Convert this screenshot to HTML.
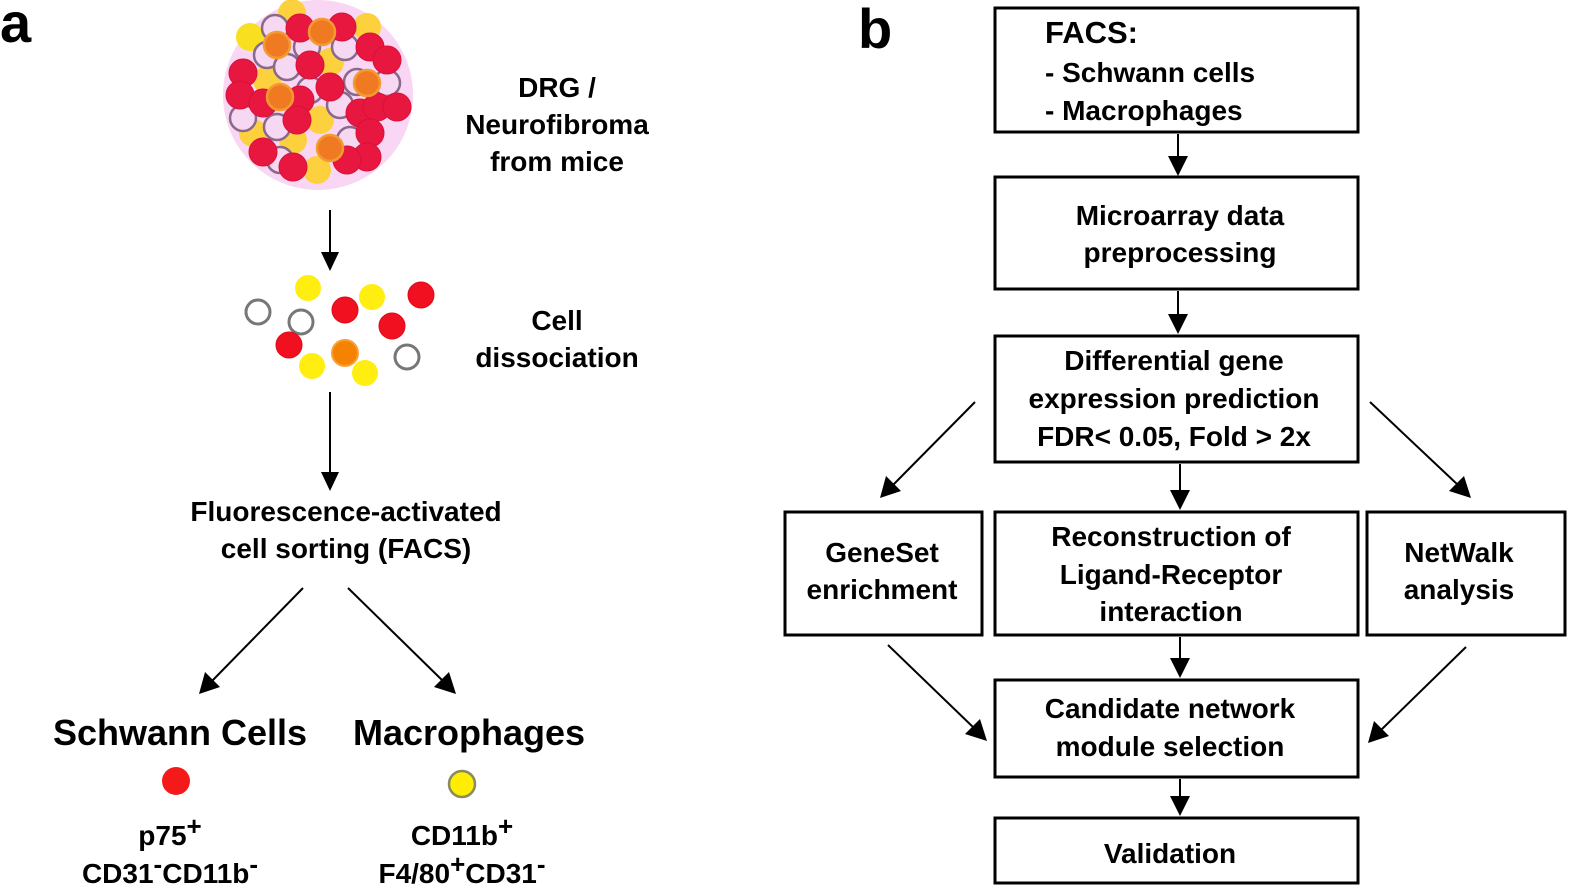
<!DOCTYPE html>
<html><head><meta charset="utf-8"><style>
html,body{margin:0;padding:0;background:#fff;}
svg{display:block;}
text{font-family:"Liberation Sans",Arial,sans-serif;font-weight:bold;fill:#000;}
</style></head><body>
<svg width="1575" height="893" viewBox="0 0 1575 893" xmlns="http://www.w3.org/2000/svg">
<text x="0" y="42" font-size="56">a</text>
<text x="858" y="48" font-size="56">b</text>

<!-- cluster -->
<circle cx="318" cy="95" r="95" fill="#f9d6f3"/>
<g stroke-width="2.5">
<g fill="#fdd13e"><circle cx="250" cy="37" r="14" fill="#f8e020"/><circle cx="292" cy="13" r="14"/><circle cx="367" cy="27" r="14"/><circle cx="330" cy="62" r="14"/><circle cx="267" cy="80" r="14"/><circle cx="320" cy="120" r="14"/><circle cx="253" cy="133" r="14"/><circle cx="293" cy="140" r="14"/><circle cx="317" cy="170" r="14"/></g>
<g fill="#f6d8f2" stroke="#8a6a8c"><circle cx="275" cy="28" r="13"/><circle cx="267" cy="55" r="13"/><circle cx="345" cy="47" r="13"/><circle cx="307" cy="47" r="13"/><circle cx="287" cy="67" r="13"/><circle cx="357" cy="82" r="13"/><circle cx="387" cy="83" r="13"/><circle cx="310" cy="90" r="13"/><circle cx="340" cy="105" r="13"/><circle cx="243" cy="118" r="13"/><circle cx="277" cy="127" r="13"/><circle cx="350" cy="140" r="13"/><circle cx="280" cy="160" r="13"/></g>
<g fill="#e8173f" stroke="#d8103a" stroke-width="1"><circle cx="300" cy="28" r="14"/><circle cx="342" cy="27" r="14"/><circle cx="370" cy="47" r="14"/><circle cx="387" cy="60" r="14"/><circle cx="310" cy="65" r="14"/><circle cx="243" cy="73" r="14"/><circle cx="240" cy="95" r="14"/><circle cx="263" cy="103" r="14"/><circle cx="300" cy="100" r="14"/><circle cx="330" cy="87" r="14"/><circle cx="360" cy="113" r="14"/><circle cx="377" cy="107" r="14"/><circle cx="397" cy="107" r="14"/><circle cx="297" cy="120" r="14"/><circle cx="370" cy="133" r="14"/><circle cx="263" cy="152" r="14"/><circle cx="367" cy="157" r="14"/><circle cx="347" cy="160" r="14"/><circle cx="293" cy="167" r="14"/></g>
<g fill="#f07a22" stroke="#f59a30"><circle cx="322" cy="32" r="13"/><circle cx="277" cy="45" r="13"/><circle cx="367" cy="83" r="13"/><circle cx="280" cy="97" r="13"/><circle cx="330" cy="148" r="13"/></g>
</g>
<text font-size="28" text-anchor="middle"><tspan x="557" y="97">DRG /</tspan><tspan x="557" y="134">Neurofibroma</tspan><tspan x="557" y="171">from mice</tspan></text>

<!-- dissociated -->
<g stroke-width="3">
<g fill="none" stroke="#777"><circle cx="258" cy="312" r="12"/><circle cx="301" cy="322" r="12"/><circle cx="407" cy="357" r="12"/></g>
<g fill="#ffee10"><circle cx="308" cy="288" r="13"/><circle cx="372" cy="297" r="13"/><circle cx="312" cy="366" r="13"/><circle cx="365" cy="373" r="13"/></g>
<g fill="#f01020" stroke="#e00818" stroke-width="1"><circle cx="345" cy="310" r="13"/><circle cx="421" cy="295" r="13"/><circle cx="392" cy="326" r="13"/><circle cx="289" cy="345" r="13"/></g>
<circle cx="345" cy="353" r="13" fill="#f58200" stroke="#f8a030" stroke-width="2"/>
</g>
<text font-size="28" text-anchor="middle"><tspan x="557" y="330">Cell</tspan><tspan x="557" y="367">dissociation</tspan></text>

<text font-size="28" text-anchor="middle"><tspan x="346" y="521">Fluorescence-activated</tspan><tspan x="346" y="558">cell sorting (FACS)</tspan></text>

<text font-size="36" x="180" y="745" text-anchor="middle">Schwann Cells</text>
<text font-size="36" x="469" y="745" text-anchor="middle">Macrophages</text>
<circle cx="176" cy="781" r="14" fill="#f51a1a"/>
<circle cx="462" cy="784" r="13" fill="#ffee00" stroke="#8a8a60" stroke-width="2.5"/>
<text font-size="28" text-anchor="middle"><tspan x="170" y="845">p75<tspan font-size="26" dy="-10">+</tspan></tspan><tspan x="170" y="883">CD31<tspan font-size="26" dy="-10">-</tspan><tspan dy="10">CD11b</tspan><tspan font-size="26" dy="-10">-</tspan></tspan></text>
<text font-size="28" text-anchor="middle"><tspan x="462" y="845">CD11b<tspan font-size="26" dy="-10">+</tspan></tspan><tspan x="462" y="883">F4/80<tspan font-size="26" dy="-10">+</tspan><tspan dy="10">CD31</tspan><tspan font-size="26" dy="-10">-</tspan></tspan></text>

<!-- panel a arrows -->
<g stroke="#000" stroke-width="2" fill="#000">
<line x1="330" y1="210" x2="330" y2="256"/><polygon points="321,252 339,252 330,271" stroke="none"/>
<line x1="330" y1="392" x2="330" y2="476"/><polygon points="321,472 339,472 330,491" stroke="none"/>
<line x1="303" y1="588" x2="212" y2="681"/><polygon points="199,694 205,672 220,687" stroke="none"/>
<line x1="348" y1="588" x2="443" y2="681"/><polygon points="456,694 434,687 449,672" stroke="none"/>
</g>

<!-- panel b boxes -->
<g fill="none" stroke="#000" stroke-width="3">
<rect x="995" y="8" width="363" height="124"/>
<rect x="995" y="177" width="363" height="112"/>
<rect x="995" y="336" width="363" height="126"/>
<rect x="785" y="512" width="197" height="123"/>
<rect x="995" y="512" width="363" height="123"/>
<rect x="1367" y="512" width="198" height="123"/>
<rect x="995" y="680" width="363" height="97"/>
<rect x="995" y="818" width="363" height="65"/>
</g>
<text font-size="31" x="1045" y="43">FACS:</text>
<text font-size="28"><tspan x="1045" y="82">- Schwann cells</tspan><tspan x="1045" y="120">- Macrophages</tspan></text>
<text font-size="28" text-anchor="middle"><tspan x="1180" y="225">Microarray data</tspan><tspan x="1180" y="262">preprocessing</tspan></text>
<text font-size="28" text-anchor="middle"><tspan x="1174" y="370">Differential gene</tspan><tspan x="1174" y="408">expression prediction</tspan><tspan x="1174" y="446">FDR&lt; 0.05, Fold &gt; 2x</tspan></text>
<text font-size="28" text-anchor="middle"><tspan x="882" y="562">GeneSet</tspan><tspan x="882" y="599">enrichment</tspan></text>
<text font-size="28" text-anchor="middle"><tspan x="1171" y="546">Reconstruction of</tspan><tspan x="1171" y="584">Ligand-Receptor</tspan><tspan x="1171" y="621">interaction</tspan></text>
<text font-size="28" text-anchor="middle"><tspan x="1459" y="562">NetWalk</tspan><tspan x="1459" y="599">analysis</tspan></text>
<text font-size="28" text-anchor="middle"><tspan x="1170" y="718">Candidate network</tspan><tspan x="1170" y="756">module selection</tspan></text>
<text font-size="28" text-anchor="middle" x="1170" y="863">Validation</text>

<!-- panel b arrows -->
<g stroke="#000" stroke-width="2" fill="#000">
<line x1="1178" y1="134" x2="1178" y2="160"/><polygon points="1168,156 1188,156 1178,176" stroke="none"/>
<line x1="1178" y1="291" x2="1178" y2="318"/><polygon points="1168,314 1188,314 1178,334" stroke="none"/>
<line x1="1180" y1="464" x2="1180" y2="494"/><polygon points="1170,490 1190,490 1180,510" stroke="none"/>
<line x1="1180" y1="637" x2="1180" y2="662"/><polygon points="1170,658 1190,658 1180,678" stroke="none"/>
<line x1="1180" y1="779" x2="1180" y2="800"/><polygon points="1170,796 1190,796 1180,816" stroke="none"/>
<line x1="975" y1="402" x2="893" y2="485"/><polygon points="880,498 886,476 901,491" stroke="none"/>
<line x1="1370" y1="402" x2="1458" y2="485"/><polygon points="1471,498 1449,491 1464,476" stroke="none"/>
<line x1="888" y1="645" x2="974" y2="728"/><polygon points="987,741 965,734 980,719" stroke="none"/>
<line x1="1466" y1="647" x2="1381" y2="730"/><polygon points="1368,743 1374,721 1389,736" stroke="none"/>
</g>
</svg>
</body></html>
